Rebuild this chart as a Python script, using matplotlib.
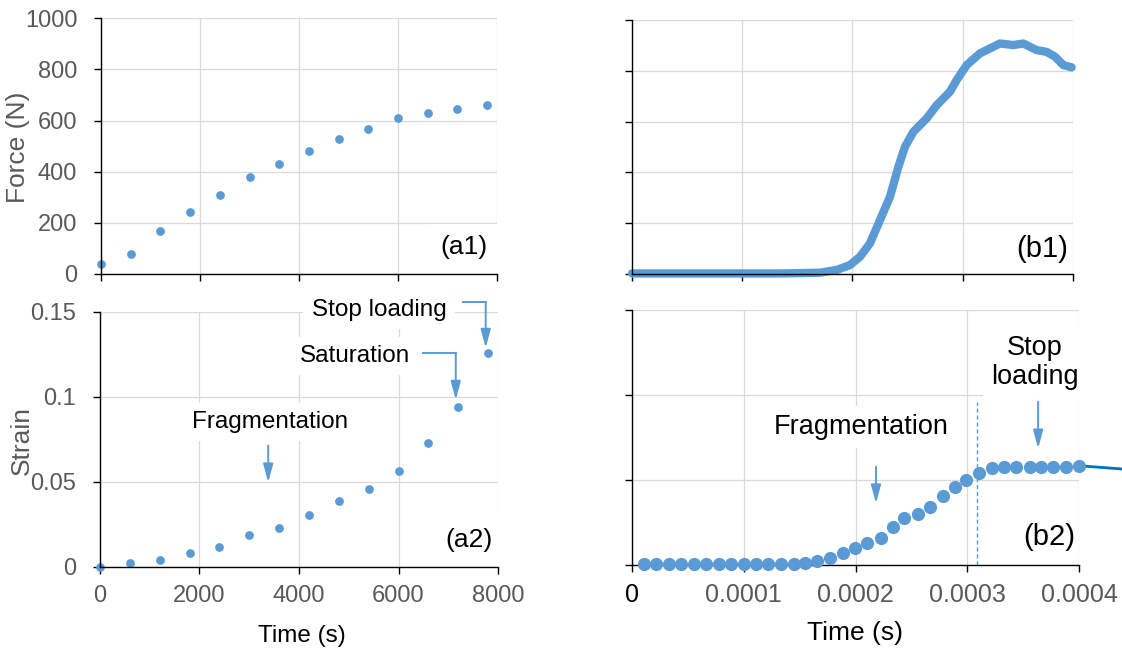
import matplotlib.pyplot as plt

plt.rcParams['font.family'] = ['Liberation Sans', 'DejaVu Sans']

BLUE = '#5B9BD5'
DARK_BLUE = '#0070C0'
GRAY = '#595959'
GRID = '#D9D9D9'

# (a) quasi-static test, one reading every 600 s
time_a = [0, 600, 1200, 1800, 2400, 3000, 3600, 4200, 4800, 5400, 6000, 6600, 7200, 7800]
force_a = [38, 78, 167, 244, 310, 378, 429, 481, 527, 568, 610, 630, 645, 661]
strain_a = [0.0, 0.0024, 0.0039, 0.0085, 0.0116, 0.0187, 0.0232, 0.0303,
            0.039, 0.0459, 0.0567, 0.073, 0.0941, 0.126]

# (b) dynamic test
time_b1 = [0.0, 1.342e-4, 1.705e-4, 1.857e-4, 1.977e-4, 2.068e-4, 2.159e-4, 2.25e-4,
           2.34e-4, 2.416e-4, 2.476e-4, 2.552e-4, 2.673e-4, 2.764e-4, 2.884e-4,
           2.945e-4, 3.036e-4, 3.156e-4, 3.277e-4, 3.338e-4, 3.459e-4, 3.549e-4,
           3.67e-4, 3.761e-4, 3.837e-4, 3.912e-4, 3.988e-4]
force_b1 = [2, 2, 5, 16, 35, 68, 121, 213, 304, 422, 501, 560, 613, 665, 718,
            764, 823, 869, 895, 908, 902, 908, 882, 875, 856, 823, 814]

time_b2 = [1.04e-5, 2.17e-5, 3.28e-5, 4.38e-5, 5.51e-5, 6.64e-5, 7.74e-5, 8.85e-5,
           9.98e-5, 1.108e-4, 1.221e-4, 1.331e-4, 1.445e-4, 1.549e-4, 1.659e-4,
           1.772e-4, 1.885e-4, 1.996e-4, 2.106e-4, 2.225e-4, 2.332e-4, 2.436e-4,
           2.555e-4, 2.666e-4, 2.779e-4, 2.889e-4, 2.993e-4, 3.106e-4, 3.217e-4,
           3.330e-4, 3.440e-4, 3.559e-4, 3.663e-4, 3.768e-4, 3.887e-4, 3.997e-4]
strain_b2 = [0.0004, 0.0004, 0.0004, 0.0004, 0.0004, 0.0004, 0.0004, 0.0004,
             0.0004, 0.0004, 0.0004, 0.0004, 0.0004, 0.001, 0.0024, 0.0043,
             0.0073, 0.0098, 0.0127, 0.0161, 0.0225, 0.0275, 0.0298, 0.0343,
             0.0406, 0.046, 0.05, 0.0539, 0.0569, 0.0578, 0.0578, 0.0578,
             0.0578, 0.0578, 0.0578, 0.0584]
tail_time = [0.0004, 0.000438]
tail_strain = [0.0584, 0.0565]
stop_time_b = 0.000309

force_ticks = [0, 200, 400, 600, 800, 1000]
force_labels = ['0', '200', '400', '600', '800', '1000']
strain_ticks = [0, 0.05, 0.1, 0.15]
strain_labels = ['0', '0.05', '0.1', '0.15']
time_a_ticks = [0, 2000, 4000, 6000, 8000]
time_a_labels = ['0', '2000', '4000', '6000', '8000']
time_b_ticks = [0, 0.0001, 0.0002, 0.0003, 0.0004]
time_b_labels = ['0', '0.0001', '0.0002', '0.0003', '0.0004']


def style(ax, xticks, yticks, xlim, ylim):
    ax.set_xlim(*xlim)
    ax.set_ylim(*ylim)
    ax.set_xticks(xticks)
    ax.set_yticks(yticks)
    ax.grid(True, color=GRID, lw=0.9)
    ax.set_axisbelow(True)
    for s in ['top', 'right']:
        ax.spines[s].set_visible(False)
    for s in ['left', 'bottom']:
        ax.spines[s].set_color('black')
        ax.spines[s].set_linewidth(1.0)
    ax.tick_params(length=5, width=1, color='black', labelcolor=GRAY)
    ax.tick_params(axis='y', pad=12)
    ax.tick_params(axis='x', pad=8)


def arrow(ax, pts):
    # polyline with a filled head on the last segment
    if len(pts) > 2:
        xs = [p[0] for p in pts[:-1]]
        ys = [p[1] for p in pts[:-1]]
        ax.plot(xs, ys, color=BLUE, lw=1.4, clip_on=False, zorder=4)
    ax.annotate('', xy=pts[-1], xytext=pts[-2], zorder=4, annotation_clip=False,
                arrowprops=dict(arrowstyle='-|>,head_length=1.1,head_width=0.3',
                                color=BLUE, lw=1.4, shrinkA=0, shrinkB=0))


def note(ax, x, y, s, size, **kw):
    ax.text(x, y, s, fontsize=size, ha='center', va='center', zorder=5,
            bbox=dict(facecolor='white', edgecolor='none', pad=6), **kw)


fig = plt.figure(figsize=(11.22, 6.5), dpi=100)
ax_a1 = fig.add_axes([0.090, 0.5785, 0.353, 0.3935])
ax_b1 = fig.add_axes([0.5633, 0.5785, 0.393, 0.3905])
ax_a2 = fig.add_axes([0.0891, 0.1277, 0.3548, 0.3923])
ax_b2 = fig.add_axes([0.5633, 0.1308, 0.3984, 0.3922])

# (a1)
style(ax_a1, time_a_ticks, force_ticks, (0, 8000), (0, 1000))
ax_a1.set_yticks(force_ticks, labels=force_labels, fontsize=17)
ax_a1.tick_params(labelbottom=False)
ax_a1.plot(time_a, force_a, 'o', color=BLUE, ms=6.3, mec='none', clip_on=False)
ax_a1.text(0.975, 0.105, '(a1)', transform=ax_a1.transAxes, fontsize=19,
           ha='right', va='center', bbox=dict(facecolor='white', edgecolor='none', pad=8))

# (b1)
style(ax_b1, time_b_ticks, force_ticks, (0, 0.0004), (0, 1000))
ax_b1.tick_params(labelbottom=False, labelleft=False)
ax_b1.plot(time_b1, force_b1, '-', color=BLUE, lw=6, solid_capstyle='round',
           solid_joinstyle='round', clip_on=False)
ax_b1.text(0.989, 0.10, '(b1)', transform=ax_b1.transAxes, fontsize=21,
           ha='right', va='center')

# (a2)
style(ax_a2, time_a_ticks, strain_ticks, (0, 8000), (0, 0.15))
ax_a2.set_yticks(strain_ticks, labels=strain_labels, fontsize=17)
ax_a2.set_xticks(time_a_ticks, labels=time_a_labels, fontsize=17)
ax_a2.plot(time_a, strain_a, 'o', color=BLUE, ms=6.3, mec='none', clip_on=False)
ax_a2.text(0.987, 0.106, '(a2)', transform=ax_a2.transAxes, fontsize=19,
           ha='right', va='center', bbox=dict(facecolor='white', edgecolor='none', pad=8))
note(ax_a2, 5608, 0.1512, 'Stop loading', 17.5)
note(ax_a2, 5126, 0.1241, 'Saturation', 17.5)
note(ax_a2, 3417, 0.0853, 'Fragmentation', 17.5)
arrow(ax_a2, [(7297, 0.156), (7752, 0.156), (7752, 0.129)])
arrow(ax_a2, [(6494, 0.1256), (7150, 0.1256), (7150, 0.0984)])
arrow(ax_a2, [(3381, 0.0715), (3381, 0.0498)])

# (b2)
style(ax_b2, time_b_ticks, strain_ticks, (0, 0.0004), (0, 0.15))
ax_b2.set_xticks(time_b_ticks, labels=time_b_labels, fontsize=18)
ax_b2.get_xticklabels()[0].set_color('black')
ax_b2.tick_params(labelleft=False)
ax_b2.plot(tail_time, tail_strain, '-', color=DARK_BLUE, lw=2, clip_on=False, zorder=2)
ax_b2.plot(time_b2, strain_b2, 'o', color=BLUE, ms=9.5, mec='none', clip_on=False, zorder=3)
ax_b2.plot([stop_time_b, stop_time_b], [0, 0.096], '--', color=BLUE, lw=1, dashes=(3, 2))
ax_b2.text(0.991, 0.11, '(b2)', transform=ax_b2.transAxes, fontsize=21,
           ha='right', va='center')
note(ax_b2, 2.049e-4, 0.0812, 'Fragmentation', 19.5)
note(ax_b2, 3.606e-4, 0.119, 'Stop\nloading', 19.5, linespacing=1.15)
arrow(ax_b2, [(2.183e-4, 0.0578), (2.183e-4, 0.0363)])
arrow(ax_b2, [(3.634e-4, 0.096), (3.634e-4, 0.0686)])

# axis titles
fig.text(0.016, 0.774, 'Force (N)', rotation=90, ha='center', va='center',
         fontsize=19, color=GRAY)
fig.text(0.0196, 0.323, 'Strain', rotation=90, ha='center', va='center',
         fontsize=19, color=GRAY)
fig.text(0.269, 0.0215, 'Time (s)', ha='center', va='center', fontsize=17.5)
fig.text(0.762, 0.026, 'Time (s)', ha='center', va='center', fontsize=19)

fig.savefig('out.png', dpi=100)
